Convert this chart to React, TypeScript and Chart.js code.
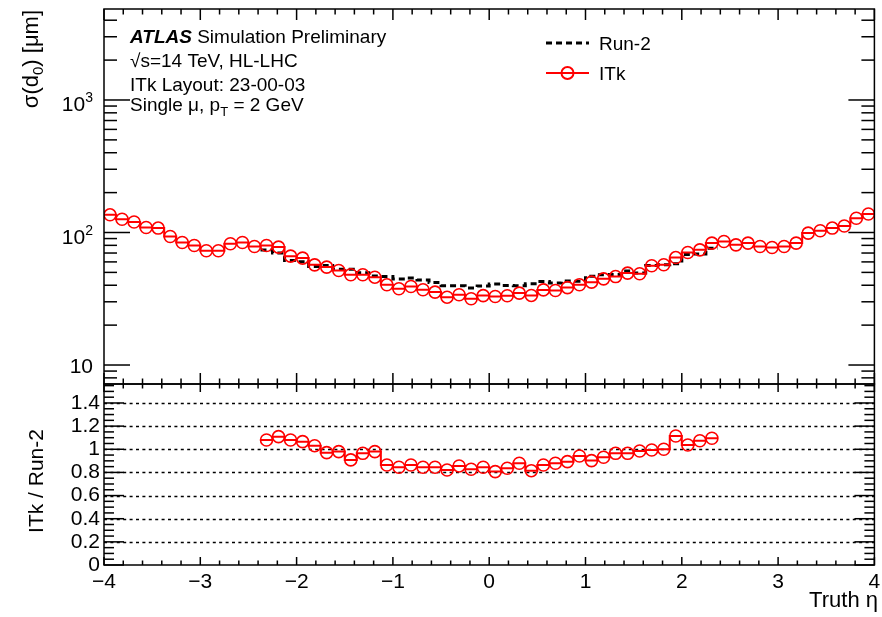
import React, { useEffect, useRef } from 'react';
import { Chart, registerables } from 'chart.js';

Chart.register(...registerables);

// ---------- data ----------
const ETA_MIN = -4;
const ETA_MAX = 4;
const BIN_WIDTH = 0.125;
const RUN2_FIRST_BIN = 13;

// ITk sigma(d0) [um], 64 bins of 0.125 in truth eta, from -4 to 4
const itkSigma = [
  136, 126, 120, 109, 108, 93.3, 84, 79.8, 72.8, 72.8,
  82.2, 84, 78.4, 79.8, 77.6, 66.3, 64.1, 57, 54.8, 51.7,
  48, 48, 46, 40.3, 37.6, 39.1, 37, 35.5, 32.5, 33.9,
  31.6, 33.4, 32.9, 33.3, 34.9, 33.5, 36.9, 36.5, 38.4, 40.3,
  42.2, 44.7, 46.5, 49.4, 48.8, 56.1, 57.1, 64.7, 70.6, 74,
  83.2, 85.5, 80.7, 83.2, 78.4, 77, 78.4, 83.2, 99, 103,
  108, 112, 128, 138,
];

// Run-2 sigma(d0) [um], bins 13..50
const run2Sigma = [
  73.9, 70.0, 61.4, 60.1, 55.3, 56.4, 52.8, 52.9, 49.7, 46.9,
  46.6, 44.5, 45.3, 43.8, 42.0, 39.6, 39.6, 38.2, 39.5, 40.8,
  39.8, 39.7, 41.1, 42.7, 41.5, 43.0, 42.8, 46.8, 48.0, 48.2,
  51.2, 49.5, 56.4, 57.1, 58.0, 68.1, 68.9, 76.0,
];

// ITk / Run-2 ratio, bins 13..50
const ratioItkRun2 = [
  1.08, 1.109, 1.08, 1.066, 1.031, 0.971, 0.98, 0.908, 0.965, 0.98,
  0.864, 0.845, 0.864, 0.845, 0.845, 0.821, 0.856, 0.827, 0.845, 0.807,
  0.836, 0.879, 0.815, 0.864, 0.879, 0.893, 0.942, 0.902, 0.931, 0.965,
  0.965, 0.985, 0.994, 1.0, 1.115, 1.037, 1.074, 1.095,
];

const xTickValues = [-4, -3, -2, -1, 0, 1, 2, 3, 4];
const xTickLabels = ['\u22124', '\u22123', '\u22122', '\u22121', '0', '1', '2', '3', '4'];
const ratioTickValues = [0, 0.2, 0.4, 0.6, 0.8, 1, 1.2, 1.4];
const ratioTickLabels = ['0', '0.2', '0.4', '0.6', '0.8', '1', '1.2', '1.4'];
const logTickValues = [10, 100, 1000];
const logTickExponents = ['', '2', '3'];

const SIGMA_MIN = 7.19;
const SIGMA_MAX = 4860;
const RATIO_MIN = 0;
const RATIO_MAX = 1.564;

const FONT = '"Liberation Sans", Arial, Helvetica, sans-serif';
const RED = '#ff0000';

// ---------- helpers ----------
const binLeft = (i: number) => ETA_MIN + i * BIN_WIDTH;
const binCenter = (i: number) => ETA_MIN + (i + 0.5) * BIN_WIDTH;

function histEdges(values: number[], first: number) {
  const pts = values.map((v, k) => ({ x: binLeft(first + k), y: v }));
  pts.push({ x: binLeft(first + values.length), y: values[values.length - 1] });
  return pts;
}
function histCenters(values: number[], first: number) {
  return values.map((v, k) => ({ x: binCenter(first + k), y: v }));
}

type Seg = { t: string; size: number; dy?: number; weight?: string };

function segWidth(ctx: CanvasRenderingContext2D, segs: Seg[]) {
  let w = 0;
  for (const s of segs) {
    ctx.font = `${s.weight || ''} ${s.size}px ${FONT}`;
    w += ctx.measureText(s.t).width;
  }
  return w;
}
function drawSegs(ctx: CanvasRenderingContext2D, segs: Seg[], x: number, y: number) {
  ctx.textAlign = 'left';
  ctx.textBaseline = 'alphabetic';
  let cx = x;
  for (const s of segs) {
    ctx.font = `${s.weight || ''} ${s.size}px ${FONT}`;
    ctx.fillText(s.t, cx, y + (s.dy || 0));
    cx += ctx.measureText(s.t).width;
  }
}

const decorPlugin = {
  id: 'atlasDecor',
  beforeDatasetsDraw(chart: any) {
    const { ctx } = chart;
    const x = chart.scales.x;
    const yr = chart.scales.yRatio;
    ctx.save();
    ctx.strokeStyle = '#000';
    ctx.lineWidth = 1.5;
    ctx.setLineDash([3, 3.4]);
    for (const v of ratioTickValues) {
      if (v <= RATIO_MIN) continue;
      const py = Math.round(yr.getPixelForValue(v)) + 0.5;
      ctx.beginPath();
      ctx.moveTo(x.left, py);
      ctx.lineTo(x.right, py);
      ctx.stroke();
    }
    ctx.restore();
  },
  afterDraw(chart: any) {
    const { ctx } = chart;
    const x = chart.scales.x;
    const yt = chart.scales.y;
    const yr = chart.scales.yRatio;
    const L = x.left, R = x.right;
    ctx.save();
    ctx.strokeStyle = '#000';
    ctx.fillStyle = '#000';
    ctx.lineWidth = 1.5;
    ctx.setLineDash([]);

    const line = (x1: number, y1: number, x2: number, y2: number) => {
      ctx.beginPath();
      ctx.moveTo(x1, y1);
      ctx.lineTo(x2, y2);
      ctx.stroke();
    };

    // frames
    ctx.strokeRect(L, yt.top, R - L, yt.bottom - yt.top);
    ctx.strokeRect(L, yr.top, R - L, yr.bottom - yr.top);

    // x ticks (inside, every 0.2, major on integers)
    for (let j = 0; j <= 40; j++) {
      const v = ETA_MIN + j * 0.2;
      const px = x.getPixelForValue(v);
      const major = j % 5 === 0;
      const lt = major ? 11 : 5.5;
      const lr = major ? 8 : 4.5;
      line(px, yt.top, px, yt.top + lt);
      line(px, yt.bottom, px, yt.bottom - lt);
      line(px, yr.top, px, yr.top + lr);
      line(px, yr.bottom, px, yr.bottom - lr);
    }

    // log y ticks (top panel)
    for (let d = 1; d <= 1000; d *= 10) {
      for (let k = 1; k <= 9; k++) {
        const v = k * d;
        if (v < SIGMA_MIN || v > SIGMA_MAX) continue;
        const py = yt.getPixelForValue(v);
        const len = k === 1 ? 26 : 13;
        line(L, py, L + len, py);
        line(R, py, R - len, py);
      }
    }

    // ratio y ticks
    for (let j = 0; j <= 31; j++) {
      const v = j * 0.05;
      if (v > RATIO_MAX) continue;
      const py = yr.getPixelForValue(v);
      const len = j % 4 === 0 ? 20 : 10;
      line(L, py, L + len, py);
      line(R, py, R - len, py);
    }

    // log tick labels
    logTickValues.forEach((v, k) => {
      const py = yt.getPixelForValue(v);
      const exp = logTickExponents[k];
      if (exp) {
        ctx.font = `14px ${FONT}`;
        const ew = ctx.measureText(exp).width;
        ctx.font = `21px ${FONT}`;
        const bw = ctx.measureText('10').width;
        const right = 93;
        drawSegs(ctx, [{ t: '10', size: 21 }], right - ew - bw, py + 11);
        drawSegs(ctx, [{ t: exp, size: 14 }], right - ew, py + 2);
      } else {
        ctx.font = `21px ${FONT}`;
        const bw = ctx.measureText('10').width;
        drawSegs(ctx, [{ t: '10', size: 21 }], 93 - bw, py + 7.5);
      }
    });

    // y axis title (top)
    const ySegs: Seg[] = [
      { t: '\u03c3(d', size: 22 },
      { t: '0', size: 15, dy: 5 },
      { t: ') [\u03bcm]', size: 22 },
    ];
    ctx.save();
    ctx.translate(37.5, 10);
    ctx.rotate(-Math.PI / 2);
    drawSegs(ctx, ySegs, -segWidth(ctx, ySegs), 0);
    ctx.restore();

    // ratio title
    const rSegs: Seg[] = [{ t: 'ITk / Run-2', size: 21 }];
    ctx.save();
    ctx.translate(43, 481);
    ctx.rotate(-Math.PI / 2);
    drawSegs(ctx, rSegs, -segWidth(ctx, rSegs) / 2, 0);
    ctx.restore();

    // x title
    const xSegs: Seg[] = [{ t: 'Truth \u03b7', size: 22 }];
    drawSegs(ctx, xSegs, 878 - segWidth(ctx, xSegs), 607);

    // ATLAS label block
    drawSegs(ctx, [
      { t: 'ATLAS', size: 19, weight: 'italic bold' },
      { t: ' Simulation Preliminary', size: 19 },
    ], 130, 43);
    drawSegs(ctx, [{ t: '\u221as=14 TeV, HL-LHC', size: 19 }], 130, 67);
    drawSegs(ctx, [{ t: 'ITk Layout: 23-00-03', size: 19 }], 130, 91);
    drawSegs(ctx, [
      { t: 'Single \u03bc, p', size: 19 },
      { t: 'T', size: 13, dy: 5 },
      { t: ' = 2 GeV', size: 19 },
    ], 130, 111);

    // legend
    ctx.strokeStyle = '#000';
    ctx.lineWidth = 3;
    ctx.setLineDash([6, 4]);
    line(546, 43, 589, 43);
    ctx.setLineDash([]);
    ctx.strokeStyle = RED;
    ctx.lineWidth = 2;
    line(546, 73, 589, 73);
    ctx.beginPath();
    ctx.arc(567.5, 73, 6, 0, Math.PI * 2);
    ctx.stroke();
    ctx.fillStyle = '#000';
    drawSegs(ctx, [{ t: 'Run-2', size: 19 }], 599, 50);
    drawSegs(ctx, [{ t: 'ITk', size: 19 }], 599, 80);

    ctx.restore();
  },
};

const noPad = (s: any) => {
  s.paddingTop = 0;
  s.paddingBottom = 0;
  s.paddingLeft = 0;
  s.paddingRight = 0;
};

export default function App() {
  const ref = useRef<HTMLCanvasElement | null>(null);

  useEffect(() => {
    document.body.style.margin = '0';
    const canvas = ref.current;
    if (!canvas) return;

    const stepLine = (data: any[], color: string, axis: string, width: number, dash: number[] = []) => ({
      data,
      yAxisID: axis,
      borderColor: color,
      borderWidth: width,
      borderDash: dash,
      stepped: 'before',
      pointRadius: 0,
      fill: false,
    });
    const markers = (data: any[], axis: string) => ({
      data,
      yAxisID: axis,
      showLine: false,
      pointStyle: 'circle',
      pointRadius: 6,
      pointBorderWidth: 1.6,
      pointBorderColor: RED,
      pointBackgroundColor: 'rgba(0,0,0,0)',
      borderColor: RED,
    });

    const chart = new Chart(canvas, {
      type: 'line',
      data: {
        datasets: [
          markers(histCenters(itkSigma, 0), 'y') as any,
          stepLine(histEdges(itkSigma, 0), RED, 'y', 2) as any,
          stepLine(histEdges(run2Sigma, RUN2_FIRST_BIN), '#000', 'y', 3, [6, 4]) as any,
          markers(histCenters(ratioItkRun2, RUN2_FIRST_BIN), 'yRatio') as any,
          stepLine(histEdges(ratioItkRun2, RUN2_FIRST_BIN), RED, 'yRatio', 2) as any,
        ],
      },
      options: {
        responsive: false,
        animation: false,
        events: [],
        layout: { padding: { top: 9, right: 4, left: 0, bottom: 0 } },
        plugins: { legend: { display: false }, tooltip: { enabled: false } },
        scales: {
          x: {
            type: 'linear',
            min: ETA_MIN,
            max: ETA_MAX,
            grid: { display: false, drawTicks: false },
            border: { display: false },
            afterBuildTicks: (s: any) => {
              s.ticks = xTickValues.map((v) => ({ value: v }));
            },
            afterFit: (s: any) => {
              s.height = 52;
              noPad(s);
            },
            ticks: {
              autoSkip: false,
              maxRotation: 0,
              padding: 5,
              color: '#000',
              font: { family: FONT, size: 21 },
              callback: (v: any) => {
                const k = xTickValues.indexOf(Number(v));
                return k >= 0 ? xTickLabels[k] : '';
              },
            },
          },
          y: {
            type: 'logarithmic',
            position: 'left',
            stack: 'panels',
            stackWeight: 375,
            weight: 2,
            min: SIGMA_MIN,
            max: SIGMA_MAX,
            grid: { display: false, drawTicks: false },
            border: { display: false },
            ticks: { display: false },
            afterFit: (s: any) => {
              s.width = 104;
              noPad(s);
            },
          },
          yRatio: {
            type: 'linear',
            position: 'left',
            stack: 'panels',
            stackWeight: 181,
            weight: 1,
            min: RATIO_MIN,
            max: RATIO_MAX,
            grid: { display: false, drawTicks: false },
            border: { display: false },
            afterBuildTicks: (s: any) => {
              s.ticks = ratioTickValues.map((v) => ({ value: v }));
            },
            afterFit: (s: any) => {
              s.width = 104;
              noPad(s);
            },
            ticks: {
              autoSkip: false,
              padding: 4,
              color: '#000',
              font: { family: FONT, size: 21 },
              callback: (v: any) => {
                const k = ratioTickValues.findIndex((t) => Math.abs(t - Number(v)) < 1e-6);
                return k >= 0 ? ratioTickLabels[k] : '';
              },
            },
          },
        },
      },
      plugins: [decorPlugin],
    } as any);

    return () => chart.destroy();
  }, []);

  return (
    <div style={{ width: 882, height: 617 }}>
      <canvas ref={ref} width={882} height={617} style={{ display: 'block' }} />
    </div>
  );
}
